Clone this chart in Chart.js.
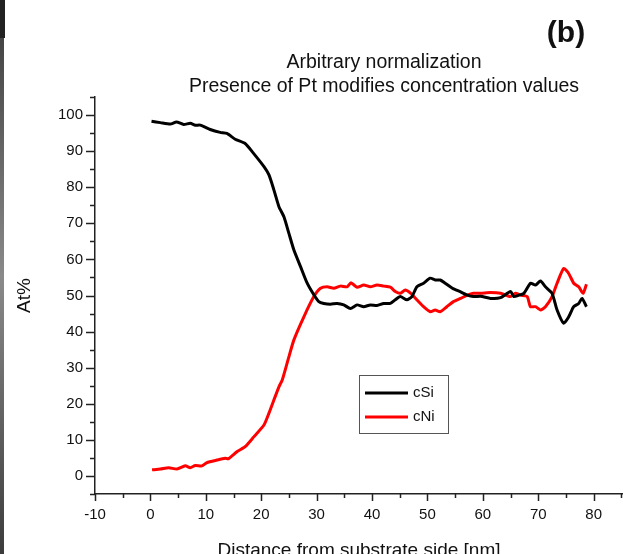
<!DOCTYPE html>
<html>
<head>
<meta charset="utf-8">
<script src="https://cdn.jsdelivr.net/npm/chart.js@4.4.0/dist/chart.umd.min.js"></script>
<style>
  body { margin: 0; background: #fff; }
  #wrap { position: relative; width: 623px; height: 554px; }
</style>
</head>
<body>
<div id="wrap"><canvas id="myChart" width="623" height="554"></canvas></div>
<script>
// distance [nm] and At% values
const siDist = [0.2, 1.8, 3.6, 4.7, 6.0, 7.2, 8.1, 9.0, 10.8, 12.6, 13.8, 15.3, 17.1, 18.4, 20.5, 21.4, 22.3, 23.2, 24.1, 25.0, 25.9, 27.1, 28.3, 29.5, 30.4, 31.3, 32.5, 33.7, 34.9, 36.1, 37.3, 38.5, 39.7, 40.9, 42.1, 43.3, 44.2, 45.1, 46.3, 47.2, 48.1, 49.3, 50.5, 51.4, 52.3, 53.2, 54.5, 56.0, 57.2, 58.3, 59.6, 61.4, 63.2, 65.0, 65.6, 66.5, 67.4, 68.6, 69.5, 70.4, 71.3, 72.5, 73.4, 74.6, 75.5, 76.4, 77.3, 77.9, 78.7];
const siVal = [98.3, 97.9, 97.5, 98.1, 97.4, 97.7, 97.2, 97.2, 96.0, 95.2, 94.9, 93.3, 92.1, 89.8, 85.7, 83.4, 79.2, 74.6, 71.8, 67.2, 62.6, 58.0, 53.4, 50.2, 48.3, 47.8, 47.6, 47.8, 47.4, 46.4, 47.4, 46.9, 47.4, 47.2, 47.8, 47.8, 48.8, 49.7, 48.8, 49.7, 52.4, 53.4, 54.8, 54.3, 54.3, 53.4, 52.0, 51.0, 50.1, 49.7, 49.8, 49.2, 49.4, 51.1, 49.7, 50.1, 50.6, 53.4, 52.9, 54.0, 52.4, 50.6, 46.0, 42.3, 44.1, 46.9, 47.8, 49.2, 46.9];

const niDist = [0.3, 1.8, 3.3, 4.8, 6.3, 7.2, 8.1, 9.3, 10.2, 12.0, 13.5, 14.1, 15.6, 17.1, 18.7, 20.5, 21.4, 22.3, 23.2, 23.8, 24.9, 25.9, 27.7, 29.5, 30.7, 31.9, 33.1, 34.3, 35.5, 36.2, 37.3, 38.5, 39.7, 40.9, 42.1, 43.3, 44.2, 45.1, 46.0, 47.0, 48.1, 49.3, 50.5, 51.4, 52.3, 53.5, 54.7, 56.0, 57.2, 58.3, 59.6, 61.4, 63.2, 65.0, 65.9, 66.8, 68.0, 68.6, 69.5, 70.4, 71.3, 72.5, 73.4, 74.6, 75.5, 76.4, 77.3, 78.1, 78.7];
const niVal = [1.7, 1.9, 2.3, 1.9, 2.8, 2.3, 2.9, 2.8, 3.7, 4.4, 4.9, 4.8, 6.7, 8.1, 10.9, 14.1, 17.4, 21.1, 24.7, 26.6, 32.5, 37.7, 44.1, 49.7, 52.0, 52.4, 52.0, 52.6, 52.4, 53.5, 52.3, 52.9, 52.4, 52.9, 52.6, 52.3, 51.1, 50.6, 51.5, 50.6, 48.8, 46.9, 45.5, 46.0, 45.5, 46.9, 48.3, 49.2, 50.1, 50.6, 50.6, 50.8, 50.6, 49.7, 50.6, 50.1, 49.7, 46.9, 46.9, 46.0, 46.9, 49.7, 53.4, 57.5, 56.1, 53.4, 52.4, 50.6, 53.1];

const xTicks = [-10, 0, 10, 20, 30, 40, 50, 60, 70, 80];
const yTicks = [0, 10, 20, 30, 40, 50, 60, 70, 80, 90, 100];

const seriesNames = ['cSi', 'cNi'];
const seriesColors = ['#000000', '#ff0000'];
const titleLines = ['Arbitrary normalization', 'Presence of Pt modifies concentration values'];

const FONT = "'Liberation Sans', Arial, sans-serif";
const pts = (xs, ys) => xs.map((x, i) => ({x: x, y: ys[i]}));

// extra drawing: left strip, titles, origin-style ticks, legend box
const decor = {
  id: 'decor',
  beforeDraw(chart) {
    const c = chart.ctx;
    c.save();
    c.fillStyle = '#fff';
    c.fillRect(0, 0, chart.width, chart.height);
    const g = c.createLinearGradient(0, 0, 0, chart.height);
    g.addColorStop(0, '#3a3a3a');
    g.addColorStop(0.5, '#8a8a8a');
    g.addColorStop(1, '#3c3c3c');
    c.fillStyle = g;
    c.fillRect(0, 0, 4, chart.height);
    c.fillStyle = '#222';
    c.fillRect(0, 0, 5, 38);
    c.restore();
  },
  afterDraw(chart) {
    const c = chart.ctx;
    const xs = chart.scales.x, ys = chart.scales.y;
    const area = chart.chartArea;
    c.save();
    // titles
    c.fillStyle = '#111';
    c.textAlign = 'center';
    c.textBaseline = 'middle';
    c.font = '19.5px ' + FONT;
    c.fillText(titleLines[0], 384, 63);
    c.fillText(titleLines[1], 384, 87);
    c.font = 'bold 30px ' + FONT;
    c.fillText('(b)', 566, 34);

    // major + minor ticks, pointing out
    c.strokeStyle = '#222';
    c.lineWidth = 1.5;
    c.beginPath();
    for (let v = -10; v <= 85; v += 5) {
      const px = Math.round(xs.getPixelForValue(v)) + 0.5;
      const len = v % 10 === 0 ? 7 : 4;
      c.moveTo(px, area.bottom);
      c.lineTo(px, area.bottom + len);
    }
    for (let v = -5; v <= 105; v += 5) {
      const py = Math.round(ys.getPixelForValue(v)) + 0.5;
      const len = v % 10 === 0 ? 9 : 5;
      c.moveTo(area.left, py);
      c.lineTo(area.left - len, py);
    }
    c.stroke();

    // legend
    const lx = area.left + 264, ly = area.top + 278;
    c.strokeStyle = '#555';
    c.lineWidth = 1;
    c.strokeRect(lx + 0.5, ly + 0.5, 89, 58);
    c.textAlign = 'left';
    c.font = '15px ' + FONT;
    seriesNames.forEach((name, i) => {
      const yy = ly + 18 + i * 24;
      c.strokeStyle = seriesColors[i];
      c.lineWidth = 3;
      c.beginPath();
      c.moveTo(lx + 6, yy);
      c.lineTo(lx + 49, yy);
      c.stroke();
      c.fillStyle = '#111';
      c.fillText(name, lx + 54, yy);
    });
    c.restore();
  }
};

const ctx = document.getElementById('myChart').getContext('2d');
const myChart = new Chart(ctx, {
  type: 'line',
  data: {
    datasets: [
      {
        label: seriesNames[0],
        data: pts(siDist, siVal),
        borderColor: seriesColors[0],
        borderWidth: 3,
        pointRadius: 0,
        tension: 0.2
      },
      {
        label: seriesNames[1],
        data: pts(niDist, niVal),
        borderColor: seriesColors[1],
        borderWidth: 3,
        pointRadius: 0,
        tension: 0.2
      }
    ]
  },
  options: {
    responsive: false,
    animation: false,
    layout: { padding: { top: 97, right: 0, left: 0, bottom: 0 } },
    plugins: {
      legend: { display: false },
      tooltip: { enabled: false },
      title: { display: false }
    },
    scales: {
      x: {
        type: 'linear',
        min: -10,
        max: 85.3,
        afterFit: (s) => { s.height = 60; },
        afterBuildTicks: (s) => { s.ticks = xTicks.map(v => ({value: v})); },
        border: { display: true, color: '#222', width: 1.5 },
        grid: { display: true, drawOnChartArea: false, drawTicks: true, tickLength: 7, tickColor: 'transparent' },
        ticks: {
          padding: 5,
          color: '#111',
          autoSkip: false,
          font: { family: FONT, size: 15 },
          maxRotation: 0
        },
        title: {
          display: true,
          text: 'Distance from substrate side [nm]',
          color: '#111',
          font: { family: FONT, size: 19 },
          padding: { top: 0, bottom: -8 }
        }
      },
      y: {
        min: -5,
        max: 105,
        afterFit: (s) => { s.width = 95; },
        afterBuildTicks: (s) => { s.ticks = yTicks.map(v => ({value: v})); },
        border: { display: true, color: '#222', width: 1.5 },
        grid: { display: true, drawOnChartArea: false, drawTicks: true, tickLength: 9, tickColor: 'transparent' },
        ticks: {
          padding: 3,
          color: '#111',
          autoSkip: false,
          font: { family: FONT, size: 15 }
        },
        title: {
          display: true,
          text: 'At%',
          color: '#111',
          font: { family: FONT, size: 19 },
          padding: { top: 13, bottom: 0 }
        }
      }
    }
  },
  plugins: [decor]
});
</script>
</body>
</html>
